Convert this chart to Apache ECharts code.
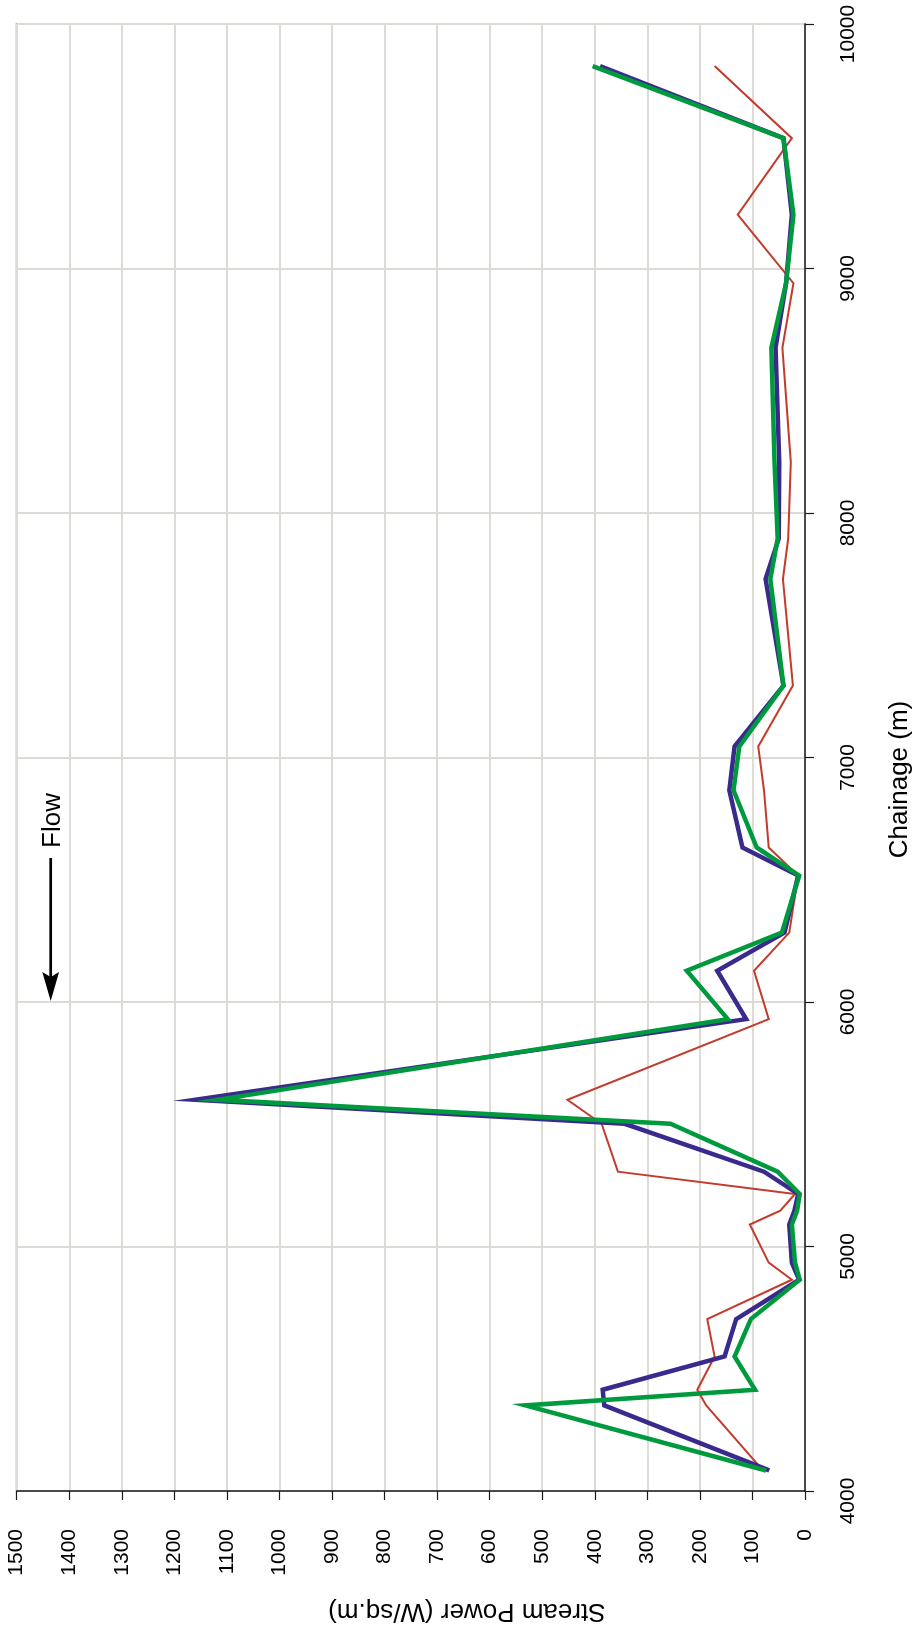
<!DOCTYPE html>
<html>
<head>
<meta charset="utf-8">
<script src="https://cdn.jsdelivr.net/npm/echarts@6/dist/echarts.min.js"></script>
<style>
  html, body { margin: 0; padding: 0; background: #ffffff; }
  #chart { width: 921px; height: 1629px; }
</style>
</head>
<body>
<div id="chart"></div>
<script>
// Chainage along the reach (m)
const chainage = [9828, 9533, 9220, 8940, 8676, 8208, 7895, 7730, 7294, 7045, 6866, 6632, 6517, 6284, 6128, 5930, 5600, 5502, 5306, 5215, 5147, 5090, 4934, 4864, 4703, 4550, 4414, 4350, 4084];

// Stream power (W/sq.m) at each chainage
const powerRed   = [172, 25, 128, 22, 43, 27, 32, 42, 23, 89, 78, 69, 13, 30, 97, 69, 452, 387, 356, 19, 47, 105, 69, 25, 186, 172, 205, 188, 80];
const powerBlue  = [390, 41, 25, 36, 56, 49, 50, 75, 41, 134, 144, 119, 13, 39, 167, 112, 1160, 343, 78, 13, 20, 30, 25, 11, 131, 153, 385, 382, 68];
const powerGreen = [404, 41, 22, 36, 64, 58, 52, 66, 41, 125, 136, 92, 11, 44, 225, 147, 1118, 256, 52, 10, 15, 25, 19, 10, 103, 134, 95, 532, 74];

// Axis ranges
const powerMin = 0, powerMax = 1500, powerStep = 100;
const chainMin = 4000, chainMax = 10000, chainStep = 1000;

const FONT = 'Arial, "Liberation Sans", Helvetica, sans-serif';

function pairs(values) {
  return values.map((v, i) => [v, chainage[i]]);
}

function lineSeries(name, values, color, width) {
  return {
    name: name,
    type: 'line',
    data: pairs(values),
    showSymbol: false,
    symbol: 'none',
    animation: false,
    lineStyle: { color: color, width: width, join: 'miter', miterLimit: 20, cap: 'butt' },
    emphasis: { disabled: true }
  };
}

// plain integers, no thousands separator
const plain = (v) => String(Math.round(v));

const chart = echarts.init(document.getElementById('chart'), null, { renderer: 'canvas' });

chart.setOption({
  backgroundColor: '#ffffff',
  animation: false,
  grid: {
    left: 16.7, right: 115.3, top: 24, bottom: 135,
    show: true, borderColor: '#a9a7a5', borderWidth: 2, backgroundColor: 'transparent',
    containLabel: false
  },
  xAxis: {
    type: 'value',
    inverse: true,
    position: 'bottom',
    min: powerMin, max: powerMax, interval: powerStep,
    name: 'Stream Power (W/sq.m)',
    nameLocation: 'middle',
    nameRotate: 180,
    nameGap: 107,
    nameTextStyle: { fontFamily: FONT, fontSize: 26, color: '#000', padding: [0, 112, 0, 0] },
    axisLine: { show: true, onZero: false, lineStyle: { color: '#1a1a1a', width: 1.5 } },
    axisTick: { show: true, inside: false, length: 9, lineStyle: { color: '#1a1a1a', width: 1.2 } },
    axisLabel: {
      show: true, rotate: 90, margin: 38, interval: 0, formatter: plain,
      fontFamily: FONT, fontSize: 21, color: '#000',
      showMinLabel: true, showMaxLabel: true, hideOverlap: false
    },
    splitLine: { show: true, lineStyle: { color: '#dedad6', width: 2 } }
  },
  yAxis: {
    type: 'value',
    position: 'right',
    min: chainMin, max: chainMax, interval: chainStep,
    name: 'Chainage (m)',
    nameLocation: 'middle',
    nameRotate: 90,
    nameGap: 82,
    nameTextStyle: { fontFamily: FONT, fontSize: 26, color: '#000', padding: [0, 44, 0, 0] },
    axisLine: { show: true, onZero: false, lineStyle: { color: '#1a1a1a', width: 1.5 } },
    axisTick: { show: true, inside: false, length: 9, lineStyle: { color: '#1a1a1a', width: 1.2 } },
    axisLabel: {
      show: true, rotate: 90, margin: 33, interval: 0, formatter: plain,
      fontFamily: FONT, fontSize: 21, color: '#000', padding: [0, 20, 0, 0],
      showMinLabel: true, showMaxLabel: true, hideOverlap: false
    },
    splitLine: { show: true, lineStyle: { color: '#dedad6', width: 2 } }
  },
  series: [
    lineSeries('Profile A', powerRed, '#c23b2c', 2),
    lineSeries('Profile B', powerBlue, '#3a2a8e', 4.5),
    lineSeries('Profile C', powerGreen, '#009a3e', 4.5)
  ],
  graphic: [
    {
      type: 'text', x: 52.5, y: 820.5, rotation: Math.PI / 2, z: 10,
      style: { text: 'Flow', font: '26px ' + FONT, fill: '#000', align: 'center', verticalAlign: 'middle' }
    },
    {
      type: 'line', z: 10,
      shape: { x1: 50.7, y1: 858, x2: 50.7, y2: 978 },
      style: { stroke: '#000', lineWidth: 2.7 }
    },
    {
      type: 'polygon', z: 10,
      shape: { points: [[42.3, 972], [50.7, 977], [59.1, 972], [50.7, 1001]] },
      style: { fill: '#000' }
    }
  ]
});
</script>
</body>
</html>
